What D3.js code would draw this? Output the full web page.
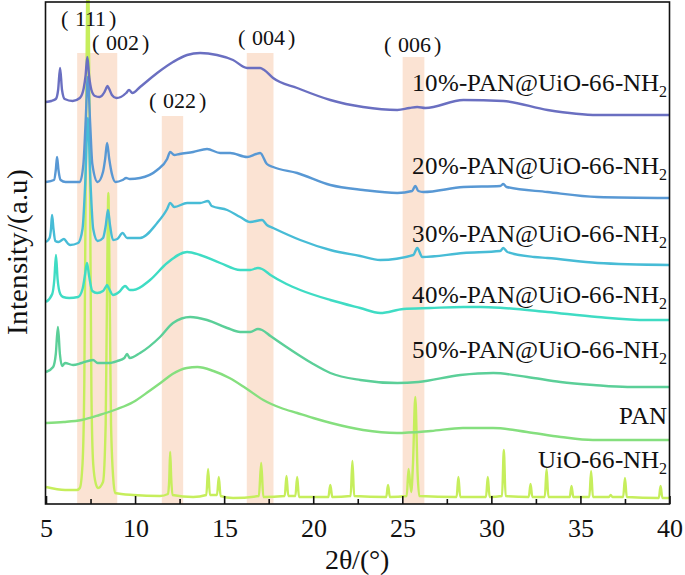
<!DOCTYPE html>
<html><head><meta charset="utf-8">
<script src="https://cdn.jsdelivr.net/npm/d3@7"></script>
<style>
@font-face{font-family:"SerifX";src:local("Liberation Serif"),local("LiberationSerif"),local("LiberationSerif-Regular"),local("Times New Roman"),local("Tinos"),local("DejaVu Serif"),local("Noto Serif");}
body{margin:0;background:#fff}svg{display:block}
</style>
</head><body><svg id="c" width="685" height="575"></svg>
<script>
// ---------- data (2θ in degrees, intensity in stacked a.u.) ----------
const seriesNames = ["10%-PAN@UiO-66-NH", "20%-PAN@UiO-66-NH", "30%-PAN@UiO-66-NH", "40%-PAN@UiO-66-NH", "50%-PAN@UiO-66-NH", "PAN", "UiO-66-NH"];
const seriesSub = ["2","2","2","2","2","","2"];
const seriesColors = ["#6a6fc1", "#5898d4", "#47bcd6", "#3fdcc4", "#5bcf98", "#85df7e", "#c6ee5c"];

const s10 = [[5.0,402],[5.3,403],[5.55,405],[5.68,414],[5.79,436],[5.9,414],[6.05,405],[6.5,403],[6.9,406],[7.12,416],[7.22,428],[7.32,447],[7.42,428],[7.55,414],[7.75,408],[8.0,407],[8.25,411],[8.36,415],[8.45,418],[8.55,415],[8.7,409],[8.95,406],[9.2,407],[9.5,411],[9.66,414],[9.85,411],[10.28,417],[11.24,431],[12.13,442],[12.92,449],[13.65,451],[14.6,449],[15.5,444],[16.29,436],[17.02,436],[17.25,434],[17.75,426],[19.1,416],[20.96,404],[22.8,397],[24.72,394],[25.4,396],[25.84,397],[26.3,396],[28.43,404],[30.67,403],[33.15,394],[35.96,389],[37.8,389],[40,389]];
const s20 = [[5.0,322],[5.45,324],[5.55,334],[5.62,347],[5.7,334],[5.82,324],[6.1,322],[6.9,322],[7.1,340],[7.22,380],[7.35,427],[7.48,380],[7.6,340],[7.9,322],[8.2,332],[8.32,345],[8.43,361],[8.55,345],[8.7,330],[8.9,322],[9.3,324],[9.5,326],[9.7,325],[10.28,326],[11.24,334],[11.8,345],[11.97,352],[12.2,349],[12.5,350],[13.26,352],[14.04,355],[14.78,351],[15.34,351],[16.29,347],[16.8,350],[17.02,351],[17.4,340],[17.75,337],[19.1,331],[20.96,319],[22.8,314],[24.72,311],[25.55,313],[25.73,318],[25.9,313],[26.18,312],[28.43,317],[30.5,318],[30.67,320],[30.85,317],[33.15,312],[35.96,307],[40,306]];
const s30 = [[5.0,262],[5.2,266],[5.28,275],[5.34,289],[5.42,275],[5.52,263],[5.7,262],[6.01,265],[6.2,261],[6.35,259],[6.8,261],[7.05,275],[7.2,320],[7.35,386],[7.5,320],[7.65,275],[7.9,263],[8.2,266],[8.35,278],[8.48,294],[8.6,278],[8.76,264],[9.0,265],[9.3,271],[9.55,266],[10.28,266],[11.24,281],[11.8,295],[11.97,301],[12.2,297],[12.92,301],[13.65,301],[14.1,303],[14.3,298],[15.17,294],[15.9,287],[16.46,282],[17.13,284],[17.4,279],[17.75,276],[19.27,264],[20.96,254],[22.64,248],[23.76,244],[25.62,249],[25.84,256],[26.12,247],[28.43,251],[30.5,253],[30.67,256],[30.9,252],[32.4,247],[33.15,246],[35.96,241],[40,239]];
const s40 = [[5.0,202],[5.35,210],[5.47,225],[5.56,249],[5.65,225],[5.8,210],[5.96,207],[6.3,206],[6.8,207],[7.05,215],[7.18,228],[7.3,241],[7.42,228],[7.6,213],[7.87,211],[8.2,213],[8.35,217],[8.43,219],[8.52,216],[8.76,209],[9.1,212],[9.44,218],[9.7,214],[9.89,214],[10.84,224],[11.8,241],[12.92,252],[13.65,249],[14.78,241],[15.9,234],[16.46,234],[16.9,236],[17.13,235],[17.6,229],[18.5,220],[19.27,214],[20.96,204],[22.64,196],[23.76,191],[25.06,195],[26.57,196],[28.43,197],[29.38,197],[30.67,196],[33.15,192],[35.96,187],[38.76,184],[40,184]];
const s50 = [[5.0,132],[5.4,137],[5.55,150],[5.67,177],[5.78,150],[5.9,138],[6.07,141],[6.52,139],[7.0,141],[7.64,144],[7.9,141],[8.5,141],[9.0,143],[9.4,146],[9.55,150],[9.7,146],[10.28,151],[11.4,167],[12.13,181],[13.09,187],[14.04,184],[15.17,176],[15.9,172],[16.46,172],[16.9,175],[17.13,174],[17.6,168],[18.5,157],[19.27,148],[20.0,140],[20.96,131],[22.64,124],[24.72,121],[25.9,122],[28.26,129],[30.11,131],[32.02,127],[33.88,122],[35.73,119],[37.64,117],[40,117]];
const sPAN = [[5,81],[6,82],[7,84],[8,89],[9,95],[9.9,102],[10.8,113],[11.5,122],[12.1,130],[12.9,136],[13.5,137],[14.4,133],[15.3,126],[16.2,116],[17.2,104],[18.2,96],[19.1,91],[20.0,86],[21.0,81],[22.8,74],[24.7,71],[26.6,73],[28.4,76],[30.1,76],[32.0,72],[33.9,67],[35.7,64],[37.6,64],[40,64]];
const sUiO = [[5,17],[6.07,14],[6.74,14],[6.9,16],[7.05,40],[7.15,120],[7.25,380],[7.35,540],[7.45,380],[7.55,110],[7.65,40],[7.8,20],[7.92,16],[8.2,22],[8.35,80],[8.42,200],[8.5,311],[8.58,200],[8.65,80],[8.8,20],[8.88,11],[9.89,9],[11.4,8],[11.85,10],[11.92,25],[11.97,52],[12.03,25],[12.1,9],[13.26,7],[14.0,9],[14.1,35],[14.2,9],[14.6,9],[14.7,27],[14.8,8],[15.5,6],[16.95,8],[17.08,41],[17.2,7],[18.4,8],[18.5,28],[18.6,8],[19.0,8],[19.1,27],[19.2,7],[20.85,7],[20.96,19],[21.07,7],[22.1,8],[22.2,43],[22.3,8],[24.1,7],[24.2,19],[24.3,7],[25.25,8],[25.35,35],[25.5,12],[25.6,40],[25.73,107],[25.86,30],[25.95,8],[28.05,7],[28.15,27],[28.25,7],[29.7,7],[29.8,27],[29.9,7],[30.6,8],[30.7,54],[30.8,8],[32.1,7],[32.2,20],[32.3,7],[33.0,7],[33.1,35],[33.2,7],[34.4,7],[34.5,18],[34.6,7],[35.5,7],[35.6,33],[35.7,7],[36.6,7],[36.7,9],[36.8,7],[37.4,7],[37.5,26],[37.6,7],[39.4,6],[39.5,18],[39.6,6],[40,6]];
const seriesData = [s10, s20, s30, s40, s50, sPAN, sUiO];

// diffraction bands (2θ start, 2θ end, band top in a.u.) and hkl labels
const bandStart = [6.75, 11.5, 16.27, 25.02];
const bandEnd   = [9.0, 12.7, 17.77, 26.24];
const bandTop   = [451, 388, 451, 447];
const hklLabels = ["111", "002", "022", "004", "006"];
const hklTheta  = [7.39, 9.16, 12.39, 17.39, 25.59];
const hklLevel  = [478, 454, 396, 459, 452];

const xMajor = [5, 10, 15, 20, 25, 30, 35, 40];
const xMinor = [7.5, 12.5, 17.5, 22.5, 27.5, 32.5, 37.5];
const labelLevel = [413, 330, 262, 201, 146, 80, 36];

// ---------- layout ----------
const FONT = "SerifX, 'Liberation Serif', Tinos, 'Times New Roman', 'DejaVu Serif', serif";
const svg = d3.select("#c").attr("font-family", FONT).style("font-family", FONT);
const L = 46, R = 669.5, T = 2, B = 504;
const x = d3.scaleLinear().domain([5, 40]).range([L, R]);
const y = d3.scaleLinear().domain([0, 502]).range([B, T]);

// bands
svg.append("g").selectAll("rect").data(bandStart).join("rect")
  .attr("x", (d,i) => x(d)).attr("width", (d,i) => x(bandEnd[i]) - x(d))
  .attr("y", (d,i) => y(bandTop[i])).attr("height", (d,i) => B - y(bandTop[i]))
  .attr("fill", "#fbe3d3");

// lines (UiO drawn first)
const line = d3.line().x(d => x(d[0])).y(d => y(d[1])).curve(d3.curveMonotoneX);
const order = [6,5,4,3,2,1,0];
svg.append("g").selectAll("path").data(order).join("path")
  .attr("d", i => line(seriesData[i]))
  .attr("fill", "none").attr("stroke", i => seriesColors[i])
  .attr("stroke-width", 2.4).attr("stroke-linejoin", "round");

// frame
svg.append("rect").attr("x", L - 0.5).attr("y", T).attr("width", R - L + 0.5).attr("height", B - T)
  .attr("fill", "none").attr("stroke", "#111").attr("stroke-width", 1.6);

// x axis
const gx = svg.append("g").attr("transform", `translate(0,${B})`)
  .call(d3.axisBottom(x).tickValues(xMajor).tickSize(-8).tickPadding(15).tickFormat(d3.format("d")));
gx.attr("font-family", FONT);
gx.select(".domain").remove();
gx.selectAll(".tick line").attr("stroke", "#111").attr("stroke-width", 1.6);
gx.selectAll(".tick text").attr("font-size", 26).attr("fill", "#111").style("font-family", FONT);
const gm = svg.append("g").attr("transform", `translate(0,${B})`)
  .call(d3.axisBottom(x).tickValues(xMinor).tickSize(-5).tickFormat(""));
gm.select(".domain").remove();
gm.selectAll(".tick line").attr("stroke", "#111").attr("stroke-width", 1.6);

const T_ = () => svg.append("text").attr("fill", "#111").style("font-family", FONT);

// axis titles
T_().attr("x", 357).attr("y", 569).attr("text-anchor", "middle")
  .attr("font-size", 28).text("2θ/(°)");
T_().attr("transform", "translate(27,252) rotate(-90)").attr("text-anchor", "middle")
  .attr("font-size", 29).text("Intensity/(a.u)");

// hkl labels
hklLabels.forEach((h, i) => {
  const t = T_().attr("x", x(hklTheta[i])).attr("y", y(hklLevel[i]))
    .attr("text-anchor", "middle").attr("font-size", 22);
  t.append("tspan").text("(");
  t.append("tspan").attr("dx", 7).text(h);
  t.append("tspan").attr("dx", 3).text(")");
});

// series labels
seriesNames.forEach((n, i) => {
  const t = T_().attr("x", 667).attr("y", y(labelLevel[i]))
    .attr("text-anchor", "end").attr("font-size", 25).text(n);
  if (seriesSub[i]) t.append("tspan").attr("font-size", 16).attr("dy", 6).text(seriesSub[i]);
});
</script></body></html>
